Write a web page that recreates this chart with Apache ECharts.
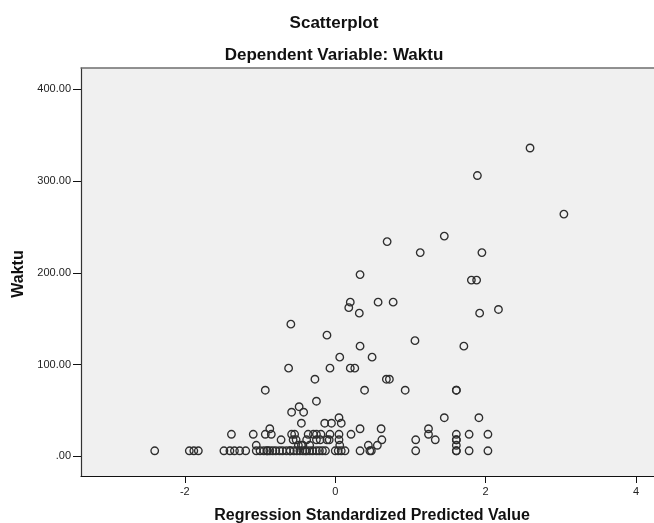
<!DOCTYPE html>
<html>
<head>
<meta charset="utf-8">
<script src="https://cdn.jsdelivr.net/npm/echarts@6/dist/echarts.min.js"></script>
<style>
  html, body { margin: 0; padding: 0; background: #ffffff; }
  #chart { width: 654px; height: 523px; }
</style>
</head>
<body>
<div id="chart"></div>
<script>
// Regression standardized predicted value (x) and Waktu (y), paired by index
var predictedValues = [
  -2.40, -1.94, -1.88, -1.82, -1.48, -1.40, -1.34, -1.27, -1.19,
  -1.05, -1.00, -0.95, -0.91, -0.90, -0.87, -0.83, -0.79, -0.74, -0.70, -0.65, -0.60, -0.60, -0.55, -0.51, -0.47, -0.43, -0.40, -0.38, -0.34, -0.30, -0.25, -0.21, -0.17, -0.13,
  0.00, 0.04, 0.08, 0.13, 0.33, 0.46, 0.48, 1.07, 1.61, 1.61, 1.78, 2.03,
  -1.05, -0.49, -0.45, -0.43, -0.34, 0.06, 0.44, 0.56, 1.61,
  -0.72, -0.56, -0.52, -0.38, -0.25, -0.20, -0.11, -0.08, 0.05, 0.62, 1.07, 1.33, 1.61, 1.61,
  -1.38, -1.09, -0.93, -0.85, -0.58, -0.54, -0.36, -0.29, -0.25, -0.19, -0.07, 0.05, 0.21, 1.24, 1.61, 1.78, 2.03,
  -0.87, 0.33, 0.61, 1.24,
  -0.45, -0.14, -0.05, 0.08,
  0.05, 1.45, 1.91,
  -0.58, -0.42,
  -0.48,
  -0.25,
  -0.93, 0.39, 0.93, 1.61, 1.61,
  -0.27, 0.68, 0.72,
  -0.62, -0.07, 0.20, 0.26,
  0.06, 0.49,
  0.33, 1.71,
  1.06,
  -0.11,
  -0.59,
  0.32, 1.92,
  2.17,
  0.18,
  0.20, 0.57, 0.77,
  1.81, 1.88,
  0.33,
  1.13, 1.95,
  0.69,
  1.45,
  3.04,
  1.89,
  2.59
];
var waktuValues = [
  6, 6, 6, 6, 6, 6, 6, 6, 6,
  6, 6, 6, 6, 6, 6, 6, 6, 6, 6, 6, 6, 6, 6, 6, 6, 6, 6, 6, 6, 6, 6, 6, 6, 6,
  6, 6, 6, 6, 6, 6, 6, 6, 6, 6, 6, 6,
  12, 12, 12, 12, 12, 12, 12, 12, 12,
  18, 18, 18, 18, 18, 18, 18, 18, 18, 18, 18, 18, 18, 18,
  24, 24, 24, 24, 24, 24, 24, 24, 24, 24, 24, 24, 24, 24, 24, 24, 24,
  30, 30, 30, 30,
  36, 36, 36, 36,
  42, 42, 42,
  48, 48,
  54,
  60,
  72, 72, 72, 72, 72,
  84, 84, 84,
  96, 96, 96, 96,
  108, 108,
  120, 120,
  126,
  132,
  144,
  156, 156,
  160,
  162,
  168, 168, 168,
  192, 192,
  198,
  222, 222,
  234,
  240,
  264,
  306,
  336
];
var xTickValues = [-2, 0, 2, 4];
var yTickValues = [0, 100, 200, 300, 400];
var chartTitle = 'Scatterplot';
var chartSubtitle = 'Dependent Variable: Waktu';
var xAxisTitle = 'Regression Standardized Predicted Value';
var yAxisTitle = 'Waktu';

var points = predictedValues.map(function (v, i) { return [v, waktuValues[i]]; });

var FONT = '"Liberation Sans", Arial, sans-serif';
var X_MIN = -3.38, X_MAX = 4.238;
var chart = echarts.init(document.getElementById('chart'), null, { renderer: 'canvas' });

chart.setOption({
  animation: false,
  backgroundColor: '#ffffff',
  grid: {
    left: 81, top: 68, right: 0, bottom: 47,
    show: true,
    backgroundColor: '#f0f0f0',
    borderWidth: 0,
    containLabel: false
  },
  xAxis: [{
    type: 'value',
    position: 'bottom',
    min: X_MIN,
    max: X_MAX,
    splitLine: { show: false },
    axisLine: { show: true, onZero: false, lineStyle: { color: '#111', width: 1.2 } },
    axisTick: { show: true, inside: false, length: 7, customValues: xTickValues, lineStyle: { color: '#111' } },
    axisLabel: {
      show: true, customValues: xTickValues, margin: 10,
      fontFamily: FONT, fontSize: 11, color: '#222',
      formatter: function (v) { return String(v); }
    }
  }, {
    type: 'value',
    position: 'top',
    min: X_MIN,
    max: X_MAX,
    splitLine: { show: false },
    axisLine: { show: true, onZero: false, lineStyle: { color: '#6e6e6e', width: 1.5 } },
    axisTick: { show: false },
    axisLabel: { show: false }
  }],
  yAxis: {
    type: 'value',
    min: -21.5,
    max: 423.2,
    splitLine: { show: false },
    axisLine: { show: true, onZero: false, lineStyle: { color: '#333', width: 1.2 } },
    axisTick: { show: true, inside: false, length: 8, customValues: yTickValues, lineStyle: { color: '#111' } },
    axisLabel: {
      show: true, customValues: yTickValues, margin: 10,
      fontFamily: FONT, fontSize: 11, color: '#222',
      formatter: function (v) { return v === 0 ? '.00' : v.toFixed(2); }
    }
  },
  series: [{
    type: 'scatter',
    xAxisIndex: 0,
    data: points,
    symbol: 'circle',
    symbolSize: 7.5,
    itemStyle: {
      color: 'rgba(0,0,0,0)',
      borderColor: '#2e2e2e',
      borderWidth: 1.35,
      opacity: 1
    },
    emphasis: { disabled: true }
  }],
  graphic: [
    {
      type: 'text', silent: true,
      style: { text: chartTitle, x: 334, y: 23, textAlign: 'center', textVerticalAlign: 'middle',
               font: 'bold 17px ' + FONT, fill: '#111' }
    },
    {
      type: 'text', silent: true,
      style: { text: chartSubtitle, x: 334, y: 55, textAlign: 'center', textVerticalAlign: 'middle',
               font: 'bold 17px ' + FONT, fill: '#111' }
    },
    {
      type: 'text', silent: true,
      style: { text: xAxisTitle, x: 372, y: 516, textAlign: 'center', textVerticalAlign: 'middle',
               font: 'bold 16px ' + FONT, fill: '#111' }
    },
    {
      type: 'text', silent: true,
      x: 19, y: 274, rotation: Math.PI / 2,
      style: { text: yAxisTitle, x: 0, y: 0, textAlign: 'center', textVerticalAlign: 'middle',
               font: 'bold 16px ' + FONT, fill: '#111' }
    }
  ]
});
</script>
</body>
</html>
